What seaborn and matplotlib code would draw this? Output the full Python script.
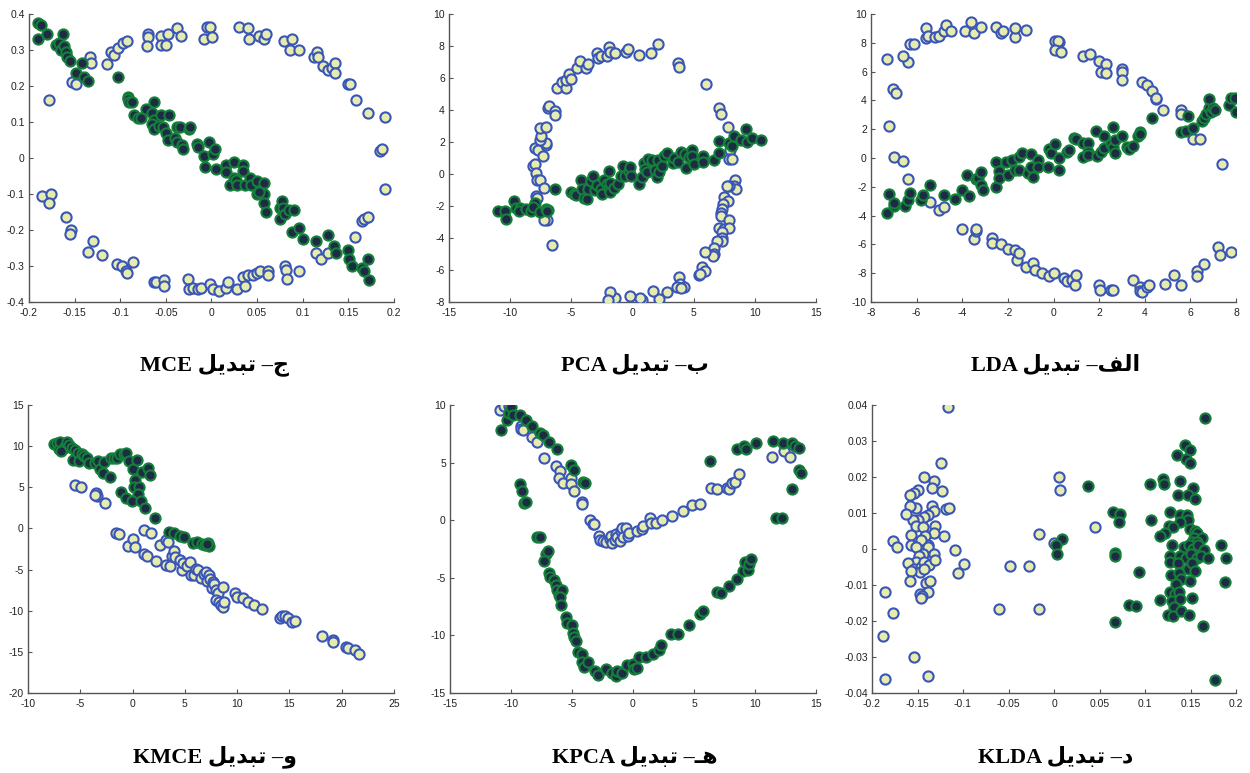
import numpy as np
import matplotlib
matplotlib.use("Agg")
import matplotlib.pyplot as plt
import seaborn as sns
from matplotlib.ticker import FuncFormatter

# ---------------- data ----------------
# Panel MCE (top-left)
mce_a = [(-0.178, 0.16), (-0.153, 0.21), (-0.148, 0.205), (-0.133, 0.28), (-0.132, 0.265), (-0.115, 0.26),
         (-0.11, 0.295), (-0.107, 0.285), (-0.102, 0.305), (-0.097, 0.32), (-0.093, 0.325), (-0.07, 0.345),
         (-0.07, 0.335), (-0.071, 0.31), (-0.055, 0.34), (-0.055, 0.315), (-0.05, 0.315), (-0.048, 0.345),
         (-0.038, 0.36), (-0.033, 0.34), (-0.008, 0.33), (-0.005, 0.365), (-0.002, 0.365), (0.0, 0.335),
         (0.03, 0.365), (0.04, 0.36), (0.041, 0.33), (0.052, 0.34), (0.058, 0.33), (0.06, 0.345), (0.079, 0.325),
         (0.088, 0.33), (0.086, 0.3), (0.096, 0.3), (0.112, 0.28), (0.116, 0.295), (0.117, 0.28), (0.122, 0.255),
         (0.128, 0.245), (0.132, 0.25), (0.135, 0.265), (0.135, 0.235), (0.15, 0.205), (0.152, 0.205),
         (0.158, 0.16), (0.172, 0.125), (0.19, 0.115), (0.185, 0.02), (0.187, 0.025), (0.19, -0.085),
         (-0.186, -0.105), (-0.176, -0.1), (-0.178, -0.125), (-0.16, -0.165), (-0.154, -0.2), (-0.155, -0.21),
         (-0.13, -0.23), (-0.135, -0.26), (-0.12, -0.27), (-0.104, -0.295), (-0.098, -0.3), (-0.094, -0.315),
         (-0.093, -0.32), (-0.086, -0.29), (-0.063, -0.345), (-0.061, -0.345), (-0.052, -0.34), (-0.052, -0.355),
         (-0.026, -0.335), (-0.025, -0.365), (-0.02, -0.36), (-0.015, -0.365), (-0.012, -0.36), (-0.002, -0.35),
         (0.002, -0.365), (0.008, -0.37), (0.016, -0.36), (0.018, -0.345), (0.028, -0.365), (0.034, -0.33),
         (0.037, -0.355), (0.04, -0.325), (0.045, -0.325), (0.05, -0.32), (0.053, -0.315), (0.062, -0.315),
         (0.062, -0.325), (0.08, -0.3), (0.082, -0.31), (0.083, -0.335), (0.096, -0.315), (0.114, -0.265),
         (0.12, -0.28), (0.128, -0.265), (0.165, -0.175), (0.167, -0.17), (0.172, -0.165), (0.157, -0.22)]
mce_b = [(-0.19, 0.375), (-0.187, 0.37), (-0.19, 0.33), (-0.18, 0.345), (-0.17, 0.315), (-0.167, 0.32),
         (-0.163, 0.345), (-0.165, 0.3), (-0.162, 0.31), (-0.16, 0.295), (-0.158, 0.28), (-0.155, 0.27),
         (-0.148, 0.235), (-0.142, 0.265), (-0.14, 0.225), (-0.135, 0.215), (-0.103, 0.225), (-0.091, 0.17),
         (-0.091, 0.165), (-0.09, 0.155), (-0.087, 0.155), (-0.085, 0.12), (-0.081, 0.11), (-0.077, 0.11),
         (-0.072, 0.135), (-0.065, 0.125), (-0.063, 0.155), (-0.063, 0.105), (-0.065, 0.095), (-0.063, 0.08),
         (-0.058, 0.09), (-0.055, 0.12), (-0.053, 0.085), (-0.05, 0.07), (-0.048, 0.05), (-0.047, 0.12),
         (-0.04, 0.055), (-0.038, 0.085), (-0.038, 0.045), (-0.034, 0.085), (-0.032, 0.035), (-0.031, 0.025),
         (-0.025, 0.08), (-0.024, 0.085), (-0.016, 0.04), (-0.015, 0.03), (-0.008, 0.005), (-0.007, -0.025),
         (-0.003, 0.045), (0.002, 0.01), (0.004, 0.025), (0.005, -0.03), (0.016, -0.02), (0.016, -0.04),
         (0.02, -0.075), (0.025, -0.01), (0.025, -0.055), (0.027, -0.06), (0.028, -0.075), (0.034, -0.02),
         (0.035, -0.035), (0.037, -0.075), (0.042, -0.055), (0.043, -0.075), (0.05, -0.065), (0.05, -0.1),
         (0.058, -0.07), (0.058, -0.1), (0.058, -0.125), (0.06, -0.15), (0.052, -0.095), (0.075, -0.14),
         (0.075, -0.17), (0.077, -0.12), (0.078, -0.14), (0.08, -0.155), (0.085, -0.145), (0.09, -0.145),
         (0.088, -0.205), (0.096, -0.195), (0.1, -0.225), (0.114, -0.23), (0.128, -0.215), (0.134, -0.245),
         (0.136, -0.265), (0.15, -0.255), (0.151, -0.28), (0.154, -0.3), (0.165, -0.305), (0.167, -0.315),
         (0.172, -0.28), (0.173, -0.34)]

# Panel PCA (top-middle)
pca_a = [(-8.1, 0.5), (-8.0, 0.6), (-7.9, 0.05), (-7.8, -0.4), (-7.6, -0.35), (-7.2, -0.9), (-7.9, -1.4),
         (-7.8, -1.5), (-8.0, 1.6), (-7.7, 1.5), (-7.3, 1.15), (-7.1, 1.8), (-7.1, 1.95), (-7.6, 2.1),
         (-7.5, 2.4), (-7.6, 2.9), (-7.1, 2.95), (-6.9, 4.15), (-6.8, 4.25), (-6.3, 3.95), (-6.3, 3.7),
         (-6.2, 5.35), (-5.8, 5.75), (-5.4, 5.4), (-5.4, 5.9), (-5.2, 6.25), (-5.0, 5.95), (-4.5, 6.6),
         (-4.3, 7.05), (-3.8, 6.6), (-3.6, 6.9), (-2.9, 7.55), (-2.8, 7.25), (-2.6, 7.4), (-2.1, 7.35),
         (-1.9, 7.95), (-1.8, 7.6), (-1.4, 7.55), (-0.5, 7.65), (-0.4, 7.8), (0.5, 7.45), (1.5, 7.55),
         (2.1, 8.15), (3.7, 6.95), (3.8, 6.7), (6.0, 5.65), (7.1, 4.1), (7.2, 3.75), (7.8, 2.95), (8.0, 1.5),
         (7.9, 0.95), (8.1, 0.95), (8.4, -0.35), (8.3, -0.75), (8.5, -0.95), (7.9, -0.75), (7.7, -0.75),
         (7.5, -1.45), (7.8, -1.7), (7.4, -1.85), (7.3, -2.2), (7.2, -2.45), (7.2, -2.6), (7.9, -2.85),
         (7.1, -3.35), (7.5, -3.45), (7.9, -3.35), (7.3, -3.65), (7.3, -4.0), (7.3, -4.2), (6.9, -4.2),
         (6.7, -4.65), (6.7, -5.0), (6.6, -5.15), (5.9, -4.85), (5.7, -5.8), (5.9, -6.05), (5.4, -6.3),
         (5.5, -6.25), (3.8, -6.45), (3.9, -6.85), (4.2, -7.05), (3.6, -7.05), (4.0, -7.15), (2.8, -7.35),
         (2.2, -7.8), (1.7, -7.3), (0.8, -7.9), (0.6, -7.75), (-0.2, -7.65), (-1.4, -7.75), (-1.8, -7.35),
         (-2.0, -7.9), (-7.0, -2.85), (-7.2, -2.9), (-6.6, -4.45)]
pca_b = [(-11.0, -2.3), (-10.4, -2.3), (-10.3, -2.8), (-9.7, -1.7), (-9.5, -2.1), (-9.2, -2.15), (-9.3, -2.3),
         (-8.7, -2.2), (-8.3, -2.3), (-8.0, -1.8), (-8.1, -2.05), (-7.6, -2.4), (-7.1, -2.2), (-6.9, -2.25),
         (-7.0, -2.3), (-6.3, -0.95), (-5.0, -1.15), (-4.8, -1.25), (-4.6, -1.3), (-4.2, -0.4), (-4.1, -0.95),
         (-4.0, -1.5), (-3.7, -1.55), (-3.6, -0.95), (-3.4, -0.45), (-3.2, -0.15), (-3.1, -1.0), (-2.9, -0.7),
         (-2.6, -0.95), (-2.5, -1.25), (-2.3, -0.4), (-2.1, -0.6), (-1.95, -0.85), (-1.9, 0.2), (-1.8, -1.1),
         (-1.85, -0.55), (-1.5, -0.85), (-1.2, -0.65), (-0.95, -0.1), (-0.8, 0.5), (-0.65, -0.1), (-0.3, 0.2),
         (-0.2, 0.45), (-0.15, -0.15), (0.5, -0.6), (0.8, -0.2), (0.9, 0.7), (1.0, 0.3), (1.3, 0.95), (1.2, 0.1),
         (1.6, 0.9), (1.8, 0.25), (2.1, 0.9), (2.0, -0.2), (2.2, 0.1), (2.4, 0.5), (2.6, 1.1), (2.8, 1.3),
         (3.3, 0.7), (3.4, 1.0), (3.7, 0.75), (4.0, 1.35), (4.3, 1.25), (4.4, 0.4), (4.6, 1.05), (4.9, 1.5),
         (4.9, 1.1), (5.0, 0.6), (5.8, 1.15), (5.8, 0.75), (6.7, 0.85), (7.1, 2.05), (7.1, 1.3), (7.9, 1.95),
         (8.1, 1.75), (8.3, 2.35), (8.9, 2.1), (9.3, 2.8), (9.4, 2.0), (9.8, 2.25), (10.5, 2.1)]

# Panel LDA (top-right)
lda_a = [(-7.3, 6.9), (-7.05, 4.8), (-6.9, 4.5), (-7.2, 2.25), (-7.0, 0.1), (-6.6, -0.2), (-6.4, -1.45),
         (-6.4, 6.65), (-6.6, 7.05), (-6.3, 7.9), (-6.1, 7.9), (-5.6, 9.0), (-5.6, 8.3), (-5.5, 8.5),
         (-5.2, 8.4), (-5.0, 8.5), (-4.8, 8.85), (-4.7, 9.25), (-4.5, 8.8), (-3.9, 8.85), (-3.6, 9.45),
         (-3.5, 8.65), (-3.2, 9.1), (-2.5, 9.1), (-2.3, 8.65), (-2.2, 8.85), (-1.7, 8.4), (-1.7, 9.05),
         (-1.2, 8.9), (0.05, 8.1), (0.25, 8.05), (0.2, 8.1), (0.05, 7.5), (0.35, 7.35), (1.3, 7.05), (1.6, 7.25),
         (2.0, 6.75), (2.1, 6.0), (2.3, 6.55), (2.3, 5.9), (3.0, 6.15), (3.0, 5.95), (3.0, 5.45), (3.9, 5.3),
         (4.1, 5.1), (4.3, 4.65), (4.5, 4.1), (4.5, 4.2), (4.8, 3.35), (5.6, 3.3), (5.6, 3.05), (6.1, 1.35),
         (6.4, 1.35), (7.4, -0.4), (7.2, -6.2), (7.3, -6.75), (7.8, -6.5),
         (-5.4, -3.05), (-5.0, -3.6), (-4.8, -3.4), (-4.0, -4.95), (-3.5, -5.6), (-3.4, -5.05), (-3.4, -4.95),
         (-2.7, -5.55), (-2.7, -5.9), (-2.3, -5.95), (-2.0, -6.3), (-1.7, -6.4), (-1.6, -7.05), (-1.5, -6.6),
         (-1.2, -7.6), (-0.9, -7.3), (-0.8, -7.75), (-0.5, -8.0), (-0.2, -8.2), (0.0, -8.0), (0.45, -8.35),
         (0.6, -8.55), (0.8, -8.45), (0.95, -8.85), (1.0, -8.1), (2.0, -8.85), (2.05, -9.2), (2.5, -9.2),
         (2.6, -9.2), (3.5, -8.5), (3.8, -8.95), (3.8, -9.25), (3.9, -9.3), (4.1, -8.95), (4.2, -8.85),
         (4.9, -8.75), (5.3, -8.1), (5.6, -8.85), (6.3, -7.85), (6.3, -8.2), (6.6, -7.35)]
lda_b = [(-7.3, -3.8), (-7.2, -2.5), (-7.0, -3.3), (-7.0, -3.1), (-6.5, -3.35), (-6.4, -2.9), (-6.3, -2.4),
         (-5.8, -2.9), (-5.7, -2.55), (-5.4, -1.85), (-4.8, -2.6), (-4.3, -2.85), (-4.0, -2.2), (-3.8, -1.2),
         (-3.7, -2.65), (-3.4, -1.45), (-3.3, -1.4), (-3.2, -1.0), (-3.2, -1.85), (-3.1, -2.2), (-2.5, -2.0),
         (-2.5, -0.3), (-2.4, -0.9), (-2.4, -1.4), (-2.1, -0.3), (-2.0, -1.15), (-1.8, -0.15), (-1.7, -0.85),
         (-1.5, -0.85), (-1.5, 0.1), (-1.4, 0.35), (-1.1, -1.05), (-1.0, -0.65), (-1.0, 0.3), (-0.9, -1.3),
         (-0.7, -0.15), (-0.7, -0.6), (-0.25, -0.6), (-0.2, 0.6), (-0.1, 0.35), (0.05, 1.0), (0.25, 0.0),
         (0.25, -0.8), (0.6, 0.45), (0.7, 0.55), (0.9, 1.4), (1.0, 1.3), (1.3, 1.05), (1.3, 0.1), (1.5, 1.05),
         (1.5, 0.4), (1.5, 0.2), (1.85, 1.85), (1.9, 0.15), (2.1, 0.45), (2.2, 0.7), (2.2, 1.55), (2.5, 1.0),
         (2.6, 0.75), (2.6, 2.15), (2.7, 0.35), (2.7, 1.25), (3.0, 1.5), (3.2, 0.75), (3.3, 0.6), (3.5, 0.8),
         (3.7, 1.55), (3.8, 1.8), (3.8, 1.7), (4.3, 2.8), (5.6, 1.8), (5.8, 1.9), (5.9, 2.9), (6.1, 2.05),
         (6.5, 2.6), (6.6, 2.75), (6.7, 3.05), (6.8, 3.5), (6.8, 4.1), (6.9, 3.2), (7.0, 3.5), (7.1, 3.3),
         (7.7, 3.7), (7.8, 4.2), (7.95, 4.15), (8.0, 3.2)]

# Panel KMCE (bottom-left)
kmce_a = [(-5.5, 5.3), (-4.9, 5.0), (-3.5, 4.3), (-3.4, 4.0), (-3.6, 4.1), (-2.6, 3.1), (-1.6, -0.6),
          (-1.3, -0.7), (-0.4, -2.1), (0.0, -1.3), (0.2, -2.3), (1.1, -0.2), (1.8, -0.5), (1.1, -3.1),
          (1.4, -3.3), (2.2, -3.9), (2.6, -2.0), (3.2, -1.4), (3.4, -1.7), (3.2, -4.4), (3.6, -4.6), (3.8, -3.4),
          (4.0, -2.8), (4.1, -3.5), (4.5, -3.8), (4.7, -5.0), (4.8, -4.2), (5.2, -4.6), (5.5, -4.1), (5.6, -5.6),
          (5.9, -5.6), (6.1, -4.9), (6.3, -5.1), (6.5, -6.0), (6.8, -5.5), (7.0, -5.3), (7.1, -6.4), (7.3, -5.7),
          (7.4, -6.2), (7.7, -6.5), (7.6, -7.2), (7.8, -6.8), (8.0, -7.5), (8.2, -7.8), (8.0, -8.7), (8.3, -8.9),
          (8.5, -9.3), (8.6, -9.5), (8.7, -9.0), (8.6, -7.1), (9.8, -7.8), (10.0, -8.3), (10.6, -8.4),
          (11.0, -8.9), (11.6, -9.3), (12.4, -9.8), (14.1, -10.9), (14.3, -10.7), (14.6, -10.7), (14.9, -10.9),
          (15.2, -11.4), (15.5, -11.3), (18.1, -13.1), (19.2, -13.6), (19.2, -13.8), (20.4, -14.4),
          (20.6, -14.5), (21.3, -14.8), (21.7, -15.2)]
kmce_b = [(-7.5, 10.3), (-7.2, 10.4), (-7.0, 9.6), (-6.9, 10.5), (-6.6, 9.8), (-6.8, 9.4), (-6.3, 10.5),
          (-6.1, 10.1), (-5.8, 9.8), (-5.5, 9.5), (-5.7, 8.3), (-5.2, 9.2), (-5.1, 8.2), (-4.8, 9.0),
          (-4.6, 8.8), (-4.4, 8.5), (-4.2, 7.9), (-3.6, 8.0), (-3.3, 8.2), (-3.1, 7.2), (-2.8, 6.7), (-2.7, 8.1),
          (-2.2, 6.3), (-2.1, 8.5), (-1.8, 8.6), (-1.5, 8.6), (-1.2, 9.0), (-0.8, 9.1), (-0.6, 9.2), (-0.3, 8.2),
          (0.0, 7.2), (0.4, 8.3), (0.2, 5.9), (0.1, 5.0), (0.6, 5.0), (0.5, 4.2), (-1.1, 4.4), (-0.6, 3.7),
          (-0.1, 3.3), (0.8, 3.3), (1.2, 2.5), (0.9, 6.8), (1.5, 7.3), (1.7, 6.5), (2.1, 1.3), (3.5, -0.4),
          (4.0, -0.5), (4.5, -0.9), (4.9, -1.1), (5.8, -1.8), (6.2, -1.7), (6.6, -1.9), (6.9, -2.0), (7.2, -1.8),
          (7.3, -2.1), (7.1, -1.9)]

# Panel KPCA (bottom-middle)
kpca_a = [(-10.9, 9.6), (-10.6, 9.9), (-10.2, 9.9), (-10.0, 9.2), (-9.2, 8.2), (-9.2, 7.9), (-9.0, 7.8),
          (-8.3, 7.2), (-7.9, 6.8), (-7.3, 5.4), (-6.3, 4.7), (-6.0, 4.3), (-6.1, 3.7), (-5.7, 3.2), (-5.1, 3.7),
          (-5.1, 3.1), (-4.8, 2.5), (-4.2, 1.6), (-4.2, 1.4), (-3.5, 0.0), (-3.3, -0.3), (-3.2, -0.3),
          (-2.8, -1.4), (-2.7, -1.7), (-2.5, -1.8), (-2.2, -1.9), (-1.9, -1.6), (-1.8, -1.4), (-1.7, -2.0),
          (-1.5, -1.7), (-1.4, -1.2), (-1.3, -1.5), (-1.1, -1.8), (-1.0, -0.9), (-0.9, -0.7), (-0.8, -1.5),
          (-0.6, -0.7), (-0.4, -1.4), (-0.3, -1.1), (0.3, -0.9), (0.7, -0.8), (0.8, -0.5), (1.4, 0.2),
          (1.5, -0.2), (1.9, -0.2), (2.4, 0.0), (3.2, 0.4), (4.1, 0.8), (4.8, 1.3), (5.5, 1.4), (6.4, 2.8),
          (6.9, 2.7), (7.7, 2.8), (7.9, 2.7), (8.1, 3.2), (8.4, 3.3), (8.7, 4.0), (11.4, 5.5), (12.4, 6.0),
          (12.9, 5.5), (13.0, 6.6)]
kpca_b = [(-10.8, 7.8), (-10.3, 8.7), (-10.2, 9.3), (-10.0, 9.8), (-9.8, 9.1), (-9.3, 9.1), (-8.8, 8.7),
          (-8.3, 8.2), (-7.6, 7.6), (-7.4, 7.4), (-6.9, 6.8), (-6.2, 6.2), (-5.1, 4.8), (-4.8, 4.4), (-4.1, 3.3),
          (-3.9, 3.2), (-9.3, 3.1), (-9.1, 2.5), (-8.9, 1.5), (-8.8, 1.6), (-7.9, -1.5), (-7.6, -1.5),
          (-7.1, -2.9), (-7.0, -2.7), (-7.3, -3.5), (-6.9, -4.6), (-6.8, -4.9), (-6.5, -5.2), (-6.3, -5.6),
          (-6.2, -6.1), (-6.1, -6.5), (-5.8, -6.1), (-6.0, -6.7), (-5.9, -7.4), (-5.5, -8.4), (-5.4, -8.9),
          (-5.0, -9.1), (-4.9, -9.8), (-4.8, -10.1), (-4.7, -10.5), (-4.5, -11.4), (-4.2, -11.6), (-4.2, -12.3),
          (-4.0, -12.7), (-3.7, -12.3), (-3.1, -13.1), (-2.9, -13.4), (-2.2, -12.9), (-1.7, -13.3),
          (-1.4, -13.5), (-1.3, -13.1), (-0.9, -13.3), (-0.5, -12.6), (0.0, -12.5), (0.1, -12.9), (0.3, -12.8),
          (0.5, -11.9), (1.1, -11.9), (1.6, -11.6), (2.1, -11.3), (2.3, -10.8), (3.1, -9.9), (3.7, -9.9),
          (4.6, -9.1), (5.5, -8.1), (5.7, -7.9), (6.9, -6.2), (7.2, -6.3), (7.9, -5.7), (8.5, -5.1), (9.0, -4.4),
          (9.2, -3.6), (9.4, -4.3), (9.5, -3.8), (9.7, -3.4), (6.3, 5.1), (8.5, 6.2), (9.1, 6.4), (9.3, 6.2),
          (10.1, 6.7), (11.5, 6.9), (12.3, 6.7), (13.0, 6.7), (13.3, 6.4), (13.6, 6.3), (13.6, 4.4), (13.8, 4.1),
          (13.0, 2.7), (11.7, 0.2), (12.2, 0.2)]

# Panel KLDA (bottom-right)
klda_a = [(-0.117, 0.0395), (-0.124, 0.024), (-0.143, 0.020), (-0.132, 0.019), (-0.134, 0.017), (-0.149, 0.0165),
          (-0.154, 0.0155), (-0.158, 0.015), (-0.123, 0.016), (-0.134, 0.012), (-0.152, 0.0115), (-0.158, 0.012),
          (-0.119, 0.011), (-0.115, 0.0115), (-0.132, 0.0105), (-0.139, 0.0095), (-0.143, 0.009),
          (-0.149, 0.008), (-0.155, 0.008), (-0.163, 0.0098), (-0.152, 0.0065), (-0.144, 0.006),
          (-0.131, 0.0065), (-0.121, 0.0035), (-0.132, 0.0045), (-0.142, 0.0035), (-0.157, 0.004),
          (-0.149, 0.002), (-0.139, 0.001), (-0.146, 0.0025), (-0.157, 0.001), (-0.152, 0.0005), (-0.177, 0.0023),
          (-0.173, 0.0005), (-0.109, -0.0003), (-0.139, 0.0005), (-0.132, -0.0015), (-0.144, -0.0015),
          (-0.148, -0.002), (-0.152, -0.0035), (-0.16, -0.0038), (-0.154, -0.0055), (-0.146, -0.005),
          (-0.143, -0.0035), (-0.137, -0.0045), (-0.131, -0.003), (-0.147, -0.0065), (-0.157, -0.006),
          (-0.143, -0.0055), (-0.099, -0.0042), (-0.105, -0.0068), (-0.158, -0.009), (-0.141, -0.0095),
          (-0.136, -0.009), (-0.139, -0.012), (-0.147, -0.0125), (-0.145, -0.013), (-0.146, -0.0135),
          (-0.186, -0.012), (-0.177, -0.0178), (-0.188, -0.0242), (-0.154, -0.030), (-0.186, -0.0362),
          (-0.138, -0.0352), (-0.06, -0.0168), (-0.048, -0.0048), (-0.027, -0.0047), (-0.017, -0.0168),
          (-0.016, 0.0042), (0.006, 0.020), (0.007, 0.0163), (0.0, 0.0017), (0.045, 0.006)]
klda_b = [(0.166, 0.0365), (0.144, 0.029), (0.149, 0.0275), (0.135, 0.026), (0.145, 0.025), (0.149, 0.024),
          (0.12, 0.0195), (0.105, 0.018), (0.121, 0.018), (0.139, 0.0188), (0.037, 0.0175), (0.153, 0.017),
          (0.136, 0.015), (0.147, 0.015), (0.155, 0.014), (0.065, 0.0102), (0.073, 0.0098), (0.071, 0.0075),
          (0.128, 0.0103), (0.138, 0.0095), (0.146, 0.0095), (0.147, 0.008), (0.107, 0.008), (0.139, 0.0075),
          (0.126, 0.0063), (0.131, 0.006), (0.122, 0.0045), (0.116, 0.0035), (0.149, 0.0055), (0.155, 0.005),
          (0.157, 0.0045), (0.154, 0.003), (0.163, 0.003), (0.152, 0.002), (0.157, 0.002), (0.009, 0.0028),
          (0.002, 0.001), (0.003, -0.0015), (0.13, 0.001), (0.143, 0.0005), (0.148, 0.001), (0.153, 0.0),
          (0.158, 0.001), (0.184, 0.0012), (0.165, -0.0003), (0.127, -0.002), (0.139, -0.002), (0.145, -0.0025),
          (0.15, -0.0015), (0.157, -0.0025), (0.162, -0.002), (0.169, -0.0025), (0.189, -0.0025),
          (0.128, -0.0035), (0.136, -0.004), (0.147, -0.0055), (0.152, -0.004), (0.155, -0.006), (0.067, -0.001),
          (0.067, -0.002), (0.093, -0.0065), (0.129, -0.0072), (0.137, -0.0068), (0.14, -0.0082),
          (0.149, -0.0088), (0.134, -0.0098), (0.188, -0.0093), (0.127, -0.012), (0.133, -0.0125),
          (0.137, -0.012), (0.13, -0.0145), (0.139, -0.014), (0.117, -0.0142), (0.152, -0.0135), (0.132, -0.016),
          (0.082, -0.0155), (0.09, -0.0157), (0.125, -0.0182), (0.131, -0.0185), (0.14, -0.0172),
          (0.148, -0.0182), (0.067, -0.0202), (0.164, -0.0213), (0.177, -0.0365)]

# axis ranges / tick steps per panel
mce_lim = [(-0.2, 0.2, 0.05), (-0.4, 0.4, 0.1)]
pca_lim = [(-15, 15, 5), (-8, 10, 2)]
lda_lim = [(-8, 8, 2), (-10, 10, 2)]
kmce_lim = [(-10, 25, 5), (-20, 15, 5)]
kpca_lim = [(-15, 15, 5), (-15, 10, 5)]
klda_lim = [(-0.2, 0.2, 0.05), (-0.04, 0.04, 0.01)]

# titles: Latin names and Persian letter labels
names = ["MCE", "PCA", "LDA", "KMCE", "KPCA", "KLDA"]
# Persian words in visual (left-to-right) order using presentation forms
TABDIL = "\uFEDE\uFEF3\uFEAA\uFE92\uFE97"          # تبدیل
letters = ["\uFE9D",                               # ج
           "\uFE8F",                               # ب
           "\uFED2\uFEDF\uFE8D",                   # الف
           "\uFEED",                               # و
           "\u0640\uFEEB",                         # هـ
           "\uFEA9"]                               # د

# ---------------- styling ----------------
sns.set_theme(style="ticks")
plt.rcParams["font.family"] = ["Liberation Sans", "DejaVu Sans"]
plt.rcParams["axes.unicode_minus"] = False

FACE_A, EDGE_A = "#e6ebae", "#3a55b8"
FACE_B, EDGE_B = "#1e2b45", "#14803a"

fig = plt.figure(figsize=(12.5, 7.73), dpi=100)
W, H = 1250, 773

boxes = [(29, 14, 394, 302), (449, 14, 816, 302), (871, 14, 1236, 302),
         (28, 405, 394, 693), (450, 405, 816, 693), (872, 405, 1236, 693)]
panels = [(mce_a, mce_b, mce_lim), (pca_a, pca_b, pca_lim), (lda_a, lda_b, lda_lim),
          (kmce_a, kmce_b, kmce_lim), (kpca_a, kpca_b, kpca_lim), (klda_a, klda_b, klda_lim)]


def fmt(v, pos):
    v = round(v, 6) + 0.0
    if abs(v) < 1e-12:
        v = 0.0
    return "%g" % v


for (x0, y0, x1, y1), (pa, pb, lim) in zip(boxes, panels):
    ax = fig.add_axes([x0 / W, 1 - y1 / H, (x1 - x0) / W, (y1 - y0) / H])
    ax.set_facecolor("white")
    a = np.array(pa)
    b = np.array(pb)
    sns.scatterplot(x=a[:, 0], y=a[:, 1], ax=ax, s=54, color=FACE_A, edgecolor=EDGE_A,
                    linewidth=1.5, zorder=3)
    sns.scatterplot(x=b[:, 0], y=b[:, 1], ax=ax, s=54, color=FACE_B, edgecolor=EDGE_B,
                    linewidth=1.5, zorder=3)
    (xa, xb, xs), (ya, yb, ys) = lim
    ax.set_xlim(xa, xb)
    ax.set_ylim(ya, yb)
    ax.set_xticks(np.arange(xa, xb + xs / 2, xs))
    ax.set_yticks(np.arange(ya, yb + ys / 2, ys))
    ax.xaxis.set_major_formatter(FuncFormatter(fmt))
    ax.yaxis.set_major_formatter(FuncFormatter(fmt))
    for sp in ["top", "right"]:
        ax.spines[sp].set_visible(False)
    for sp in ["left", "bottom"]:
        ax.spines[sp].set_color("#555555")
        ax.spines[sp].set_linewidth(1.0)
    ax.tick_params(direction="in", length=3, width=0.8, color="#555555",
                   labelsize=7.5, labelcolor="#222222")
    ax.tick_params(axis="x", pad=4)
    ax.tick_params(axis="y", pad=3)

title_pos = [(215, 365), (635, 365), (1056, 365), (215, 757), (635, 757), (1056, 757)]
for (tx, ty), nm, lt in zip(title_pos, names, letters):
    txt = nm + " " + TABDIL + " \u2013" + lt
    fig.text(tx / W, 1 - ty / H, txt, ha="center", va="center", fontsize=16,
             fontweight="bold", family=["Liberation Serif", "DejaVu Sans"], color="black")

fig.savefig("out.png", dpi=100, facecolor="white")
